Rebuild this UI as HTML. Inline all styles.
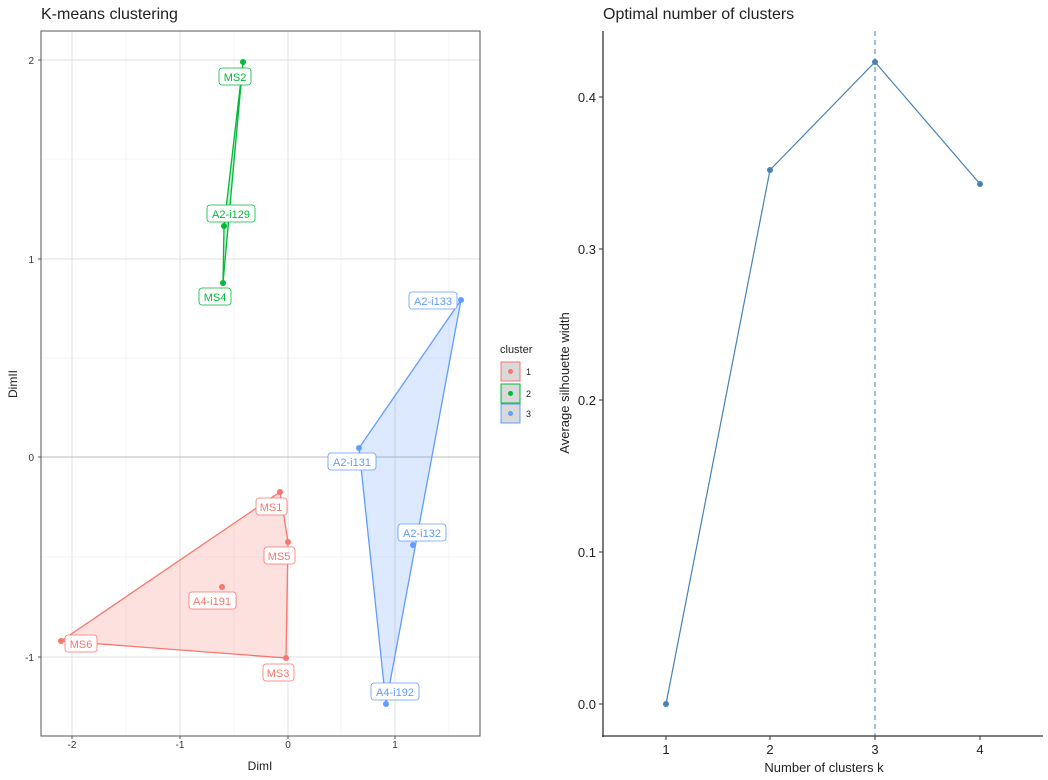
<!DOCTYPE html><html><head><style>body{margin:0;background:#fff}svg{display:block}text{font-family:"Liberation Sans",sans-serif}</style></head><body>
<svg width="1048" height="780" xmlns="http://www.w3.org/2000/svg">
<rect width="1048" height="780" fill="#fff"/>
<text x="41" y="19" font-size="16" fill="#222">K-means clustering</text>
<g stroke="#ececec" stroke-width="0.6">
<line x1="126" y1="31" x2="126" y2="736"/><line x1="234" y1="31" x2="234" y2="736"/><line x1="341" y1="31" x2="341" y2="736"/><line x1="449" y1="31" x2="449" y2="736"/>
<line x1="41" y1="159" x2="480" y2="159"/><line x1="41" y1="358" x2="480" y2="358"/><line x1="41" y1="557" x2="480" y2="557"/>
</g>
<g stroke="#e0e0e0" stroke-width="1">
<line x1="72" y1="31" x2="72" y2="736"/><line x1="180" y1="31" x2="180" y2="736"/><line x1="288" y1="31" x2="288" y2="736"/><line x1="395" y1="31" x2="395" y2="736"/>
<line x1="41" y1="60" x2="480" y2="60"/><line x1="41" y1="259" x2="480" y2="259"/><line x1="41" y1="657" x2="480" y2="657"/>
</g>
<line x1="41" y1="457" x2="480" y2="457" stroke="#bbb"/>
<polygon points="280,492 288,542 286,658 61,641" fill="#f8766d" fill-opacity="0.22" stroke="#f8766d" stroke-width="1.3"/>
<polygon points="461,300 359,448 386,704" fill="#619cff" fill-opacity="0.22" stroke="#619cff" stroke-width="1.3"/>
<polygon points="243,62 224,226 223,283" fill="#00ba38" fill-opacity="0.22" stroke="#00ba38" stroke-width="1.3"/>
<g fill="#f8766d"><circle cx="280" cy="492" r="3"/><circle cx="288" cy="542" r="3"/><circle cx="286" cy="658" r="3"/><circle cx="61" cy="641" r="3"/><circle cx="222" cy="587" r="3"/></g>
<g fill="#00ba38"><circle cx="243" cy="62" r="3"/><circle cx="224" cy="226" r="3"/><circle cx="223" cy="283" r="3"/></g>
<g fill="#619cff"><circle cx="461" cy="300" r="3"/><circle cx="359" cy="448" r="3"/><circle cx="386" cy="704" r="3"/><circle cx="413" cy="545" r="3"/></g>
<g font-size="11" text-anchor="middle">
<g fill="#fff" stroke="#00ba38" stroke-width="0.8"><rect x="219" y="68" width="32" height="17" rx="3"/><rect x="207" y="205" width="48" height="17" rx="3"/><rect x="199" y="288" width="32" height="17" rx="3"/></g>
<g fill="#00ba38"><text x="235" y="81">MS2</text><text x="231" y="218">A2-i129</text><text x="215" y="301">MS4</text></g>
<g fill="#fff" stroke="#619cff" stroke-width="0.8"><rect x="409" y="292" width="48" height="17" rx="3"/><rect x="328" y="453" width="48" height="17" rx="3"/><rect x="398" y="524" width="48" height="17" rx="3"/><rect x="371" y="683" width="48" height="17" rx="3"/></g>
<g fill="#619cff"><text x="433" y="305">A2-i133</text><text x="352" y="466">A2-i131</text><text x="422" y="537">A2-i132</text><text x="395" y="696">A4-i192</text></g>
<g fill="#fff" stroke="#f8766d" stroke-width="0.8"><rect x="256" y="498" width="31" height="17" rx="3"/><rect x="264" y="547" width="31" height="17" rx="3"/><rect x="189" y="592" width="47" height="17" rx="3"/><rect x="65" y="635" width="32" height="17" rx="3"/><rect x="263" y="664" width="31" height="17" rx="3"/></g>
<g fill="#f8766d"><text x="271" y="511">MS1</text><text x="279" y="560">MS5</text><text x="212" y="605">A4-i191</text><text x="81" y="648">MS6</text><text x="278" y="677">MS3</text></g>
</g>
<rect x="41" y="31" width="439" height="705" fill="none" stroke="#555" stroke-width="1"/>
<g font-size="10" fill="#333" text-anchor="end"><text x="34" y="64">2</text><text x="34" y="263">1</text><text x="34" y="461">0</text><text x="34" y="661">-1</text></g>
<g font-size="10" fill="#333" text-anchor="middle"><text x="72" y="748">-2</text><text x="180" y="748">-1</text><text x="288" y="748">0</text><text x="395" y="748">1</text></g>
<g stroke="#555"><line x1="38" y1="60" x2="41" y2="60"/><line x1="38" y1="259" x2="41" y2="259"/><line x1="38" y1="457" x2="41" y2="457"/><line x1="38" y1="657" x2="41" y2="657"/><line x1="72" y1="736" x2="72" y2="739"/><line x1="180" y1="736" x2="180" y2="739"/><line x1="288" y1="736" x2="288" y2="739"/><line x1="395" y1="736" x2="395" y2="739"/></g>
<text x="260" y="770" font-size="12" fill="#222" text-anchor="middle">DimI</text>
<text transform="translate(17,384) rotate(-90)" font-size="12" fill="#222" text-anchor="middle">DimII</text>
<text x="500" y="353" font-size="11" fill="#222">cluster</text>
<rect x="501" y="362" width="19" height="19" fill="#d9d9d9" stroke="#f8766d"/><circle cx="510.5" cy="371.5" r="2.5" fill="#f8766d"/><text x="526" y="375" font-size="9" fill="#222">1</text>
<rect x="501" y="384" width="19" height="19" fill="#d9d9d9" stroke="#00ba38"/><circle cx="510.5" cy="393.5" r="2.5" fill="#00ba38"/><text x="526" y="397" font-size="9" fill="#222">2</text>
<rect x="501" y="404" width="19" height="19" fill="#d9d9d9" stroke="#619cff"/><circle cx="510.5" cy="413.5" r="2.5" fill="#619cff"/><text x="526" y="417" font-size="9" fill="#222">3</text>

<text x="603" y="19" font-size="16" fill="#222">Optimal number of clusters</text>
<line x1="875" y1="31" x2="875" y2="736" stroke="#4682b4" stroke-dasharray="5,4" stroke-width="1"/>
<polyline points="666,704 770,170 875,62 980,184" fill="none" stroke="#4682b4" stroke-width="1.2"/>
<g fill="#4682b4"><circle cx="666" cy="704" r="3"/><circle cx="770" cy="170" r="3"/><circle cx="875" cy="62" r="3"/><circle cx="980" cy="184" r="3"/></g>
<line x1="603" y1="31" x2="603" y2="737" stroke="#333" stroke-width="1.3"/>
<line x1="602" y1="736" x2="1043" y2="736" stroke="#333" stroke-width="1.3"/>
<g stroke="#333"><line x1="599" y1="704" x2="603" y2="704"/><line x1="599" y1="552" x2="603" y2="552"/><line x1="599" y1="400" x2="603" y2="400"/><line x1="599" y1="249" x2="603" y2="249"/><line x1="599" y1="97" x2="603" y2="97"/><line x1="666" y1="736" x2="666" y2="740"/><line x1="770" y1="736" x2="770" y2="740"/><line x1="875" y1="736" x2="875" y2="740"/><line x1="980" y1="736" x2="980" y2="740"/></g>
<g font-size="13" fill="#222" text-anchor="end"><text x="596" y="709">0.0</text><text x="596" y="557">0.1</text><text x="596" y="405">0.2</text><text x="596" y="254">0.3</text><text x="596" y="102">0.4</text></g>
<g font-size="13" fill="#222" text-anchor="middle"><text x="666" y="754">1</text><text x="770" y="754">2</text><text x="875" y="754">3</text><text x="980" y="754">4</text></g>
<text x="824" y="772" font-size="13" fill="#222" text-anchor="middle">Number of clusters k</text>
<text transform="translate(569,383) rotate(-90)" font-size="13" fill="#222" text-anchor="middle">Average silhouette width</text>
</svg></body></html>
